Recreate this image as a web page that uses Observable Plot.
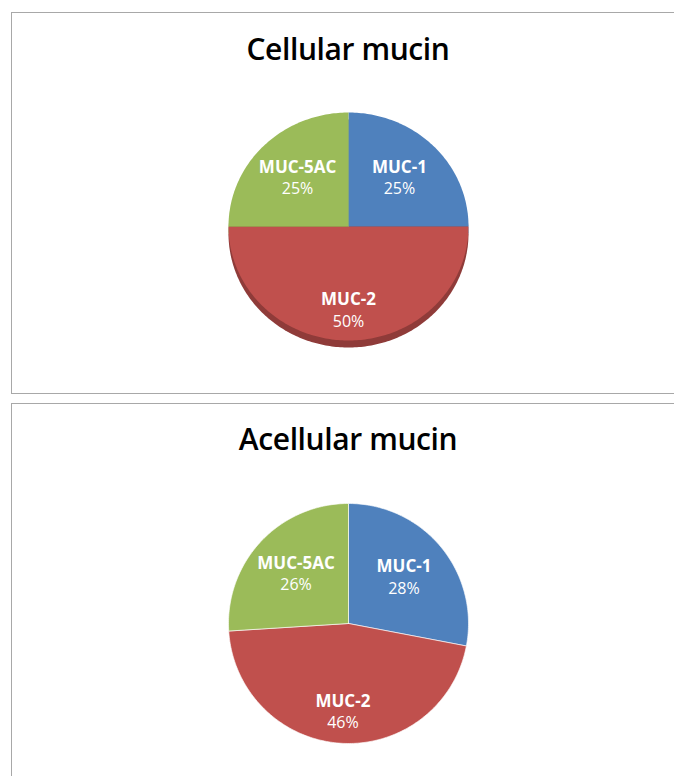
<!DOCTYPE html>
<html>
<head>
<meta charset="utf-8">
<script src="https://cdn.jsdelivr.net/npm/d3@7"></script>
<script src="https://cdn.jsdelivr.net/npm/@observablehq/plot@0.6"></script>
<style>
  html, body { margin: 0; padding: 0; background: #fff; }
  body { width: 674px; height: 776px; position: relative; overflow: hidden; font-family: "Open Sans", sans-serif; }
  .panel { position: absolute; left: 11px; width: 700px; border: 1px solid #a8a8a8; box-sizing: border-box; }
  .chart { position: absolute; left: 0; }
  .title-wrap { position: absolute; left: 0; width: 696px; text-align: center; font-size: 30px; font-weight: 600; color: #000; letter-spacing: -0.4px; line-height: 1; }
</style>
</head>
<body>
<div class="panel" style="top:12px;height:382px;"></div>
<div class="panel" style="top:403px;height:420px;"></div>
<div id="t1" class="title-wrap"></div>
<div id="t2" class="title-wrap"></div>
<div id="c1" class="chart" style="top:0px;"></div>
<div id="c2" class="chart" style="top:393px;"></div>
<script>
// ---- data ----
const categories = ["MUC-1", "MUC-2", "MUC-5AC"];
const cellularValues = [25, 50, 25];
const acellularValues = [28, 46, 26];
const chartTitles = ["Cellular mucin", "Acellular mucin"];

// ---- styles ----
const sliceColors = ["#4F81BD", "#C0504D", "#9BBB59"];
const depthColors = ["#3a6394", "#8f3b39", "#76903f"];
const W = 674;

function pie(values, {height, cx, cy, rx, ry, depth = 0, separator = false}) {
  const total = d3.sum(values);
  let acc = 0;
  const slices = categories.map((c, i) => {
    const a0 = acc / total * 2 * Math.PI;
    acc += values[i];
    const a1 = acc / total * 2 * Math.PI;
    return {c, v: values[i], a0, a1, frac: values[i] / total};
  });
  const pts = [];
  for (const s of slices) {
    const n = Math.max(2, Math.ceil((s.a1 - s.a0) / (Math.PI / 180)));
    pts.push({c: s.c, x: 0, y: 0});
    for (let k = 0; k <= n; k++) {
      const a = s.a0 + (s.a1 - s.a0) * k / n;
      pts.push({c: s.c, x: Math.sin(a), y: Math.cos(a)});
    }
    pts.push({c: s.c, x: 0, y: 0});
  }
  const labels = slices.map(s => {
    const mid = (s.a0 + s.a1) / 2;
    const r = s.frac >= 0.4 ? 0.74 : 0.6;
    return {c: s.c, pct: s.v + "%", x: r * Math.sin(mid), y: r * Math.cos(mid)};
  });
  const marks = [];
  if (depth) {
    marks.push(Plot.line(pts, {x: "x", y: "y", z: "c", fill: d => depthColors[categories.indexOf(d.c)], stroke: "none", dy: depth}));
  }
  marks.push(Plot.line(pts, {x: "x", y: "y", z: "c", fill: "c", stroke: separator ? "#fff" : "none", strokeWidth: 0.8, strokeOpacity: 0.8}));
  marks.push(Plot.text(labels, {x: "x", y: "y", text: "c", fill: "#fff", fontWeight: "bold", fontSize: 17, dy: -11, fontFamily: "Open Sans"}));
  marks.push(Plot.text(labels, {x: "x", y: "y", text: "pct", fill: "#fff", fontSize: 16, dy: 11, fontFamily: "Open Sans"}));
  return Plot.plot({
    width: W,
    height,
    margin: 0,
    style: {background: "transparent", overflow: "visible"},
    x: {domain: [-1, 1], range: [cx - rx, cx + rx], axis: null},
    y: {domain: [-1, 1], range: [cy + ry, cy - ry], axis: null},
    color: {domain: categories, range: sliceColors},
    marks
  });
}

document.getElementById("t1").textContent = chartTitles[0];
document.getElementById("t1").style.top = "34px";
document.getElementById("t2").textContent = chartTitles[1];
document.getElementById("t2").style.top = "424px";

document.getElementById("c1").append(pie(cellularValues, {height: 393, cx: 348, cy: 226, rx: 120, ry: 114, depth: 7}));
document.getElementById("c2").append(pie(acellularValues, {height: 383, cx: 348, cy: 230, rx: 120, ry: 120, separator: true}));
</script>
</body>
</html>
